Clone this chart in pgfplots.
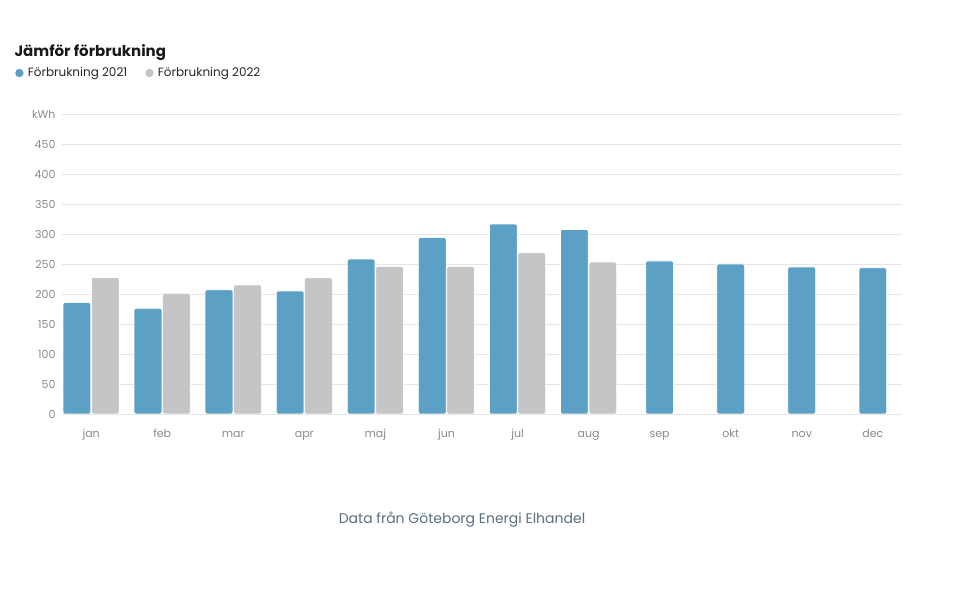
\documentclass[border=0pt]{standalone}
\usepackage{pgfplots}
\pgfplotsset{compat=1.18}
\usepackage{fontspec}
\setmainfont{Poppins}

\definecolor{blue21}{HTML}{5CA1C5}
\definecolor{gray22}{HTML}{C4C5C7}
\definecolor{gridc}{HTML}{E6E6E6}
\definecolor{tickc}{HTML}{8A8A8A}
\definecolor{footc}{HTML}{5B6E7E}

\begin{document}
\begin{tikzpicture}[x=1pt,y=1pt]
\useasboundingbox (0,0) rectangle (967,589);
\node[anchor=base west,font=\fontsize{15}{18}\selectfont\bfseries,text=black!90] at (11,532) {Jämför förbrukning};
\begin{axis}[
    at={(62pt,175pt)}, anchor=south west,
    width=840pt, height=300pt, scale only axis,
    xmin=-0.41, xmax=11.41,
    ymin=0, ymax=500,
    ybar, bar shift=0pt, bar width=0.39,
    axis line style={draw=none},
    axis x line*=bottom,
    xtick={0,...,11},
    xticklabels={jan,feb,mar,apr,maj,jun,jul,aug,sep,okt,nov,dec},
    ytick={0,50,...,500},
    yticklabels={0,50,100,150,200,250,300,350,400,450,kWh},
    ymajorgrids, grid style={gridc, line width=0.8pt},
    major tick length=0pt,
    tick label style={text=tickc, font=\fontsize{11}{13}\selectfont},
    /pgf/number format/assume math mode=true,
    xticklabel style={yshift=-12pt, text height=8pt, text depth=2.5pt},
    yticklabel style={xshift=-3pt},
    legend style={at={(rel axis cs:0,1)}, anchor=west, xshift=-47pt, yshift=41pt,
        draw=none, fill=none, inner sep=0pt,
        font=\fontsize{12}{14}\selectfont, text=black!85,
        /tikz/every even column/.append style={column sep=16pt}},
    legend columns=2,
    legend cell align=left,
    legend image code/.code={\fill[#1, draw=none] (0,0) circle (4.2pt);
        \path[draw=none, fill=none] (0,-0.1pt) rectangle (6.4pt,0.1pt);},
]
\addplot[fill=blue21, draw=white, line width=0.6pt, rounded corners=1.5pt] coordinates {
    (-0.2,185.5) (0.8,176) (1.8,207) (2.8,205) (3.8,258) (4.8,294) (5.8,316.5) (6.8,307.5)
    (8,255) (9,250) (10,245) (11,243.5)
};
\addlegendentry{Förbrukning 2021}
\addplot[fill=gray22, draw=white, line width=0.6pt, rounded corners=1.5pt] coordinates {
    (0.2,227.5) (1.2,201) (2.2,215) (3.2,227) (4.2,245.5) (5.2,245.5) (6.2,268.5) (7.2,253)
};
\addlegendentry{Förbrukning 2022}
\draw[gridc!80!black!40, line width=0.8pt] (rel axis cs:0,0) -- (rel axis cs:1,0);
\end{axis}
\node[anchor=base,font=\fontsize{14}{17}\selectfont,text=footc] at (462,65) {Data från Göteborg Energi Elhandel};
\end{tikzpicture}
\end{document}
